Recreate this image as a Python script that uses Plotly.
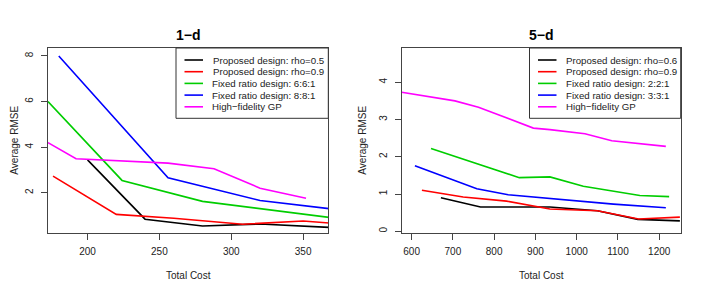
import plotly.graph_objects as go

# The page body has an 8px default margin, so the figure is made 8px smaller
# and all layout positions (given in window pixels) are shifted by 8px.
WIN_W, WIN_H = 706, 294
OFF = 8
W, H = WIN_W - OFF, WIN_H - OFF

# ---------------- data: 1-d ----------------
labels_1d = ["Proposed design: rho=0.5", "Proposed design: rho=0.9",
             "Fixed ratio design: 6:6:1", "Fixed ratio design: 8:8:1",
             "High\u2212fidelity GP"]
cost_1d_rho05 = [200, 240, 280, 320, 368]
rmse_1d_rho05 = [3.44, 0.84, 0.54, 0.63, 0.48]
cost_1d_rho09 = [176, 220, 260, 308, 350, 368]
rmse_1d_rho09 = [2.73, 1.05, 0.88, 0.62, 0.76, 0.67]
cost_1d_661 = [172.5, 224, 280, 368]
rmse_1d_661 = [6.0, 2.54, 1.62, 0.92]
cost_1d_881 = [180, 256, 320, 368]
rmse_1d_881 = [8.0, 2.66, 1.66, 1.30]
cost_1d_hf = [172.5, 192, 256, 288, 320, 352]
rmse_1d_hf = [4.2, 3.49, 3.30, 3.05, 2.2, 1.76]
xticks_1d = [200, 250, 300, 350]
yticks_1d = [2, 4, 6, 8]

# ---------------- data: 5-d ----------------
labels_5d = ["Proposed design: rho=0.6", "Proposed design: rho=0.9",
             "Fixed ratio design: 2:2:1", "Fixed ratio design: 3:3:1",
             "High\u2212fidelity GP"]
cost_5d_rho06 = [671, 767, 935, 1050, 1148, 1250]
rmse_5d_rho06 = [0.90, 0.65, 0.65, 0.55, 0.32, 0.28]
cost_5d_rho09 = [625, 725, 830, 935, 1050, 1150, 1250]
rmse_5d_rho09 = [1.10, 0.92, 0.81, 0.60, 0.55, 0.33, 0.38]
cost_5d_221 = [647, 861, 935, 1016, 1153, 1224]
rmse_5d_221 = [2.22, 1.44, 1.46, 1.21, 0.96, 0.93]
cost_5d_331 = [608, 758, 834, 948, 1016, 1089, 1216]
rmse_5d_331 = [1.76, 1.14, 0.98, 0.86, 0.79, 0.73, 0.63]
cost_5d_hf = [576, 705, 762, 895, 935, 1020, 1085, 1216]
rmse_5d_hf = [3.73, 3.50, 3.33, 2.77, 2.73, 2.62, 2.43, 2.28]
xticks_5d = [600, 700, 800, 900, 1000, 1100, 1200]
yticks_5d = [0, 1, 2, 3, 4]

colors = ["#000000", "#FF0000", "#00CD00", "#0000FF", "#FF00FF"]

series_1d = [(cost_1d_rho05, rmse_1d_rho05), (cost_1d_rho09, rmse_1d_rho09),
             (cost_1d_661, rmse_1d_661), (cost_1d_881, rmse_1d_881),
             (cost_1d_hf, rmse_1d_hf)]
series_5d = [(cost_5d_rho06, rmse_5d_rho06), (cost_5d_rho09, rmse_5d_rho09),
             (cost_5d_221, rmse_5d_221), (cost_5d_331, rmse_5d_331),
             (cost_5d_hf, rmse_5d_hf)]

FONT = "Liberation Sans, Arial, Helvetica, sans-serif"

def px(x):
    return (x - OFF) / W

def py(y):
    return 1 - (y - OFF) / H

fig = go.Figure()
for (xs, ys), c, name in zip(series_1d, colors, labels_1d):
    fig.add_trace(go.Scatter(x=xs, y=ys, mode="lines", name=name,
                             line=dict(color=c, width=1.6),
                             xaxis="x", yaxis="y", showlegend=False))
for (xs, ys), c, name in zip(series_5d, colors, labels_5d):
    fig.add_trace(go.Scatter(x=xs, y=ys, mode="lines", name=name,
                             line=dict(color=c, width=1.6),
                             xaxis="x2", yaxis="y2", showlegend=False))

# plot boxes (window pixels)
L1, R1 = 48, 328.3
L2, R2 = 401.7, 680.7
T, B = 48, 233.3

axis_common = dict(showgrid=False, zeroline=False, showline=True, mirror=True,
                   linecolor="#444444", linewidth=1, ticks="outside",
                   ticklen=6, tickcolor="#444444", tickwidth=1,
                   tickfont=dict(family=FONT, size=10, color="#222222"))

fig.update_layout(
    width=W, height=H, margin=dict(l=0, r=0, t=0, b=0),
    paper_bgcolor="white", plot_bgcolor="white",
    showlegend=False,
    xaxis=dict(domain=[px(L1), px(R1)], range=[172.5, 367.5],
               tickvals=xticks_1d, anchor="y", ticklabelstandoff=3, **axis_common),
    yaxis=dict(domain=[py(B), py(T)], range=[0.22, 8.35],
               tickvals=yticks_1d, anchor="x", tickangle=-90, ticklabelstandoff=4,
               **axis_common),
    xaxis2=dict(domain=[px(L2), px(R2)], range=[576, 1252],
                tickvals=xticks_5d, anchor="y2", ticklabelstandoff=3, **axis_common),
    yaxis2=dict(domain=[py(B), py(T)], range=[-0.054, 4.92],
                tickvals=yticks_5d, anchor="x2", tickangle=-90, ticklabelstandoff=4,
                **axis_common),
)

annotations = []
shapes = []

def add_panel_text(cx, title, ylab_x):
    annotations.append(dict(x=px(cx), y=py(35), xref="paper", yref="paper",
                            text="<b>" + title + "</b>", showarrow=False,
                            font=dict(family=FONT, size=14, color="black"),
                            xanchor="center", yanchor="middle"))
    annotations.append(dict(x=px(cx), y=py(275), xref="paper", yref="paper",
                            text="Total Cost", showarrow=False,
                            font=dict(family=FONT, size=10, color="#222222"),
                            xanchor="center", yanchor="middle"))
    annotations.append(dict(x=px(ylab_x), y=py((T + B) / 2), xref="paper", yref="paper",
                            text="Average RMSE", showarrow=False, textangle=-90,
                            font=dict(family=FONT, size=10, color="#222222"),
                            xanchor="center", yanchor="middle"))

add_panel_text((L1 + R1) / 2, "1\u2212d", 15)
add_panel_text((L2 + R2) / 2, "5\u2212d", 363)

def add_legend(box_left, box_right, labels):
    shapes.append(dict(type="rect", xref="paper", yref="paper",
                       x0=px(box_left), x1=px(box_right), y0=py(118.3), y1=py(T),
                       line=dict(color="#333333", width=1), fillcolor="white",
                       layer="above"))
    rows = [60, 71.7, 83.4, 95.1, 106.8]
    for lab, c, ry in zip(labels, colors, rows):
        shapes.append(dict(type="line", xref="paper", yref="paper",
                           x0=px(box_left + 8.5), x1=px(box_left + 27),
                           y0=py(ry), y1=py(ry),
                           line=dict(color=c, width=1.6), layer="above"))
        annotations.append(dict(x=px(box_left + 34.5), y=py(ry), xref="paper", yref="paper",
                                text=lab, showarrow=False,
                                font=dict(family=FONT, size=9.7, color="#222222"),
                                xanchor="left", yanchor="middle"))

add_legend(176, R1, labels_1d)
add_legend(529.5, R2, labels_5d)

fig.update_layout(annotations=annotations, shapes=shapes)
fig.write_html("out.html")
